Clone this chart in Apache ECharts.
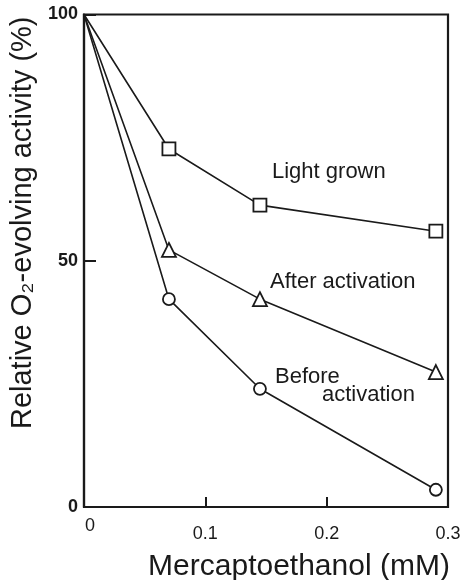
<!DOCTYPE html>
<html><head><meta charset="utf-8">
<script src="https://cdn.jsdelivr.net/npm/echarts@6/dist/echarts.min.js"></script>
<style>html,body{margin:0;padding:0;background:#fff}#c{width:463px;height:580px}</style>
</head><body><div id="c"></div>
<script>
const xValues = [0, 0.07, 0.145, 0.29];
const lightGrown = [100, 72.7, 61.3, 56.0];
const afterActivation = [100, 52.2, 42.2, 27.4];
const beforeActivation = [100, 42.2, 24.0, 3.5];
const xTickLabels = ['0', '0.1', '0.2', '0.3'];
const yTickLabels = ['0', '50', '100'];

const ink = '#1a1a1a';
const font = 'Liberation Sans';
function pairs(ys){
  return xValues.map((x,i)=> i===0 ? {value:[x, ys[i]], symbol:'none'} : [x, ys[i]]);
}
function line(name, ys, symbol, size){
  return {
    name, type:'line', data:pairs(ys), symbol, symbolSize:size, showAllSymbol:true,
    lineStyle:{color:ink,width:1.6}, itemStyle:{color:'#fff',borderColor:ink,borderWidth:1.8},
    z:3, animation:false
  };
}
const chart = echarts.init(document.getElementById('c'));
chart.setOption({
  animation:false,
  backgroundColor:'#fff',
  grid:{left:84,right:15,top:14.5,bottom:73,containLabel:false,outerBoundsMode:'none',
    show:true,borderColor:ink,borderWidth:2.2,backgroundColor:'transparent'},
  xAxis:{type:'value',min:0,max:0.3,interval:0.1,
    axisLine:{show:true,lineStyle:{color:ink,width:2.2}},
    axisTick:{show:true,inside:true,length:10,lineStyle:{color:ink,width:2}},
    splitLine:{show:false},
    axisLabel:{color:ink,fontFamily:font,fontSize:18,margin:18,
      formatter:v=>{const i=Math.round(v*10); return i===0?'{z|0}':xTickLabels[i];},
      rich:{z:{fontFamily:font,fontSize:18,color:ink,padding:[-8,0,0,12]}}},
    name:'Mercaptoethanol (mM)',nameLocation:'middle',nameGap:45,
    nameTextStyle:{color:ink,fontFamily:font,fontSize:30,padding:[0,0,0,66]}
  },
  yAxis:{type:'value',min:0,max:100,interval:50,
    axisLine:{show:true,lineStyle:{color:ink,width:2.2}},
    axisTick:{show:true,inside:true,length:12,lineStyle:{color:ink,width:2}},
    splitLine:{show:false},
    axisLabel:{color:ink,fontFamily:font,fontSize:18,fontWeight:'bold',margin:6,
      formatter:v=>yTickLabels[Math.round(v/50)]},
    name:'Relative O\u2082-evolving activity (%)',nameLocation:'middle',nameGap:26,
    nameTextStyle:{color:ink,fontFamily:font,fontSize:29,padding:[0,0,0,76]}
  },
  series:[
    line('Light grown', lightGrown, 'rect', 13),
    line('After activation', afterActivation, 'triangle', 14),
    line('Before activation', beforeActivation, 'circle', 12)
  ],
  graphic:[
    {type:'text',left:272,top:161,style:{text:'Light grown',fill:ink,font:'22px '+font}},
    {type:'text',left:270,top:271,style:{text:'After activation',fill:ink,font:'22px '+font}},
    {type:'text',left:275,top:366,style:{text:'Before',fill:ink,font:'22px '+font}},
    {type:'text',left:322,top:384,style:{text:'activation',fill:ink,font:'22px '+font}}
  ]
});
</script></body></html>
